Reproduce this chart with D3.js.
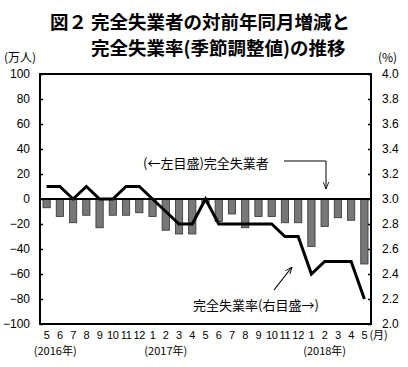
<!DOCTYPE html>
<html>
<head>
<meta charset="utf-8">
<script src="https://cdn.jsdelivr.net/npm/d3@7"></script>
<style>
  body { margin: 0; background: #fff; }
  text { font-family: "Liberation Sans", Arial, "Noto Sans CJK JP", sans-serif; }
  .jp { font-family: "Noto Sans CJK JP", sans-serif; }
</style>
</head>
<body>
<div id="chart"></div>
<script>
// months May 2016 .. May 2018
var months = [5, 6, 7, 8, 9, 10, 11, 12, 1, 2, 3, 4, 5, 6, 7, 8, 9, 10, 11, 12, 1, 2, 3, 4, 5];
// year-on-year change in unemployed persons (10k persons, left scale)
var unemployedChange = [-7, -14, -19, -13, -23, -13, -13, -11, -14, -25, -28, -28, -3, -18, -12, -23, -14, -14, -19, -19, -38, -22, -15, -17, -52];
// unemployment rate, seasonally adjusted (%, right scale)
var unemploymentRate = [3.1, 3.1, 3.0, 3.1, 3.0, 3.0, 3.1, 3.1, 3.0, 2.9, 2.8, 2.8, 3.0, 2.8, 2.8, 2.8, 2.8, 2.8, 2.7, 2.7, 2.4, 2.5, 2.5, 2.5, 2.2];
var leftTicks = [100, 80, 60, 40, 20, 0, -20, -40, -60, -80, -100];
var rightTicks = [4.0, 3.8, 3.6, 3.4, 3.2, 3.0, 2.8, 2.6, 2.4, 2.2, 2.0];
var yearLabels = ["(2016年)", "(2017年)", "(2018年)"];
var yearLabelAt = [0.65, 9, 21];

(function() {
var W = 408, H = 367;
var pl = 40, pr = 371, pt = 74, pb = 324;

var svg = d3.select("#chart").append("svg")
    .attr("width", W)
    .attr("height", H);

// Title
var title = svg.append("g")
    .attr("font-weight", "bold").attr("font-size", 18.5);
title.append("text").attr("class", "jp").attr("x", 50).attr("y", 29).text("図２");
title.append("text").attr("class", "jp").attr("x", 91).attr("y", 29).text("完全失業者の対前年同月増減と");
title.append("text").attr("class", "jp").attr("x", 91).attr("y", 55).text("完全失業率(季節調整値)の推移");

// unit labels
svg.append("text").attr("class", "jp").attr("x", 4).attr("y", 62).attr("font-size", 12).text("(万人)");
svg.append("text").attr("class", "jp").attr("x", 378).attr("y", 62).attr("font-size", 12).text("(%)");

// Scales
var x = d3.scaleBand()
    .domain(d3.range(months.length))
    .range([pl, pr])
    .paddingInner(0.45)
    .paddingOuter(0.225);
var yL = d3.scaleLinear().domain([-100, 100]).range([pb, pt]);
var yR = d3.scaleLinear().domain([2, 4]).range([pb, pt]);

// Bars
svg.append("g").selectAll("rect")
    .data(unemployedChange)
    .join("rect")
    .attr("x", function(d, i) { return x(i); })
    .attr("width", x.bandwidth())
    .attr("y", function(d) { return yL(Math.max(0, d)); })
    .attr("height", function(d) { return Math.abs(yL(d) - yL(0)); })
    .attr("fill", "#777")
    .attr("stroke", "#333")
    .attr("stroke-width", 0.8);

// zero line
svg.append("line")
    .attr("x1", pl).attr("x2", pr)
    .attr("y1", yL(0)).attr("y2", yL(0))
    .attr("stroke", "#000").attr("stroke-width", 2);

// Rate line
var line = d3.line()
    .x(function(d, i) { return x(i) + x.bandwidth() / 2; })
    .y(function(d) { return yR(d); });
svg.append("path")
    .datum(unemploymentRate)
    .attr("fill", "none")
    .attr("stroke", "#000")
    .attr("stroke-width", 3)
    .attr("stroke-linejoin", "miter")
    .attr("d", line);

// Frame
svg.append("rect")
    .attr("x", pl).attr("y", pt)
    .attr("width", pr - pl).attr("height", pb - pt)
    .attr("fill", "none").attr("stroke", "#000").attr("stroke-width", 2);

// Axes
var axL = svg.append("g")
    .attr("transform", "translate(" + pl + ",0)")
    .call(d3.axisLeft(yL).tickValues(leftTicks).tickSize(-3).tickPadding(10)
        .tickFormat(function(d) { return d < 0 ? "\u2212" + Math.abs(d) : d; }));
var axR = svg.append("g")
    .attr("transform", "translate(" + pr + ",0)")
    .call(d3.axisRight(yR).tickValues(rightTicks).tickSize(-3).tickPadding(11)
        .tickFormat(d3.format(".1f")));
[axL, axR].forEach(function(a) {
    a.select(".domain").remove();
    a.selectAll(".tick line").attr("stroke", "#000").attr("stroke-width", 1.5);
    a.selectAll(".tick text").attr("font-size", 12).attr("fill", "#000")
        .attr("font-family", "Liberation Sans, Arial, sans-serif");
});

// X labels
svg.append("g").selectAll("text")
    .data(months)
    .join("text")
    .attr("x", function(d, i) { return x(i) + x.bandwidth() / 2; })
    .attr("y", 339)
    .attr("text-anchor", "middle")
    .attr("font-size", 11)
    .attr("letter-spacing", -0.3)
    .text(function(d) { return d; });
svg.append("text").attr("class", "jp")
    .attr("x", x(months.length - 1) + x.bandwidth() / 2 + 5)
    .attr("y", 339).attr("font-size", 11).text("(月)");
svg.append("g").selectAll("text")
    .data(yearLabels)
    .join("text")
    .attr("class", "jp")
    .attr("x", function(d, i) { return pl + x.step() * (yearLabelAt[i] + 0.5); })
    .attr("y", 355)
    .attr("text-anchor", "middle")
    .attr("font-size", 11)
    .text(function(d) { return d; });

// Arrow marker
svg.append("defs").append("marker")
    .attr("id", "arr")
    .attr("viewBox", "0 0 10 10")
    .attr("refX", 10).attr("refY", 5)
    .attr("markerWidth", 7).attr("markerHeight", 7)
    .attr("markerUnits", "userSpaceOnUse")
    .attr("orient", "auto")
    .append("path")
    .attr("d", "M0,1 L10,5 L0,9")
    .attr("fill", "none").attr("stroke", "#000").attr("stroke-width", 1.2);

// Annotations
svg.append("text").attr("class", "jp")
    .attr("x", 143).attr("y", 168).attr("font-size", 13).text("(←左目盛)完全失業者");
svg.append("path")
    .attr("d", "M284,161 L326,161 L326,189")
    .attr("fill", "none").attr("stroke", "#000").attr("stroke-width", 1)
    .attr("marker-end", "url(#arr)");

svg.append("text").attr("class", "jp")
    .attr("x", 193).attr("y", 310).attr("font-size", 13).text("完全失業率(右目盛→)");
svg.append("line")
    .attr("x1", 274).attr("y1", 290).attr("x2", 292).attr("y2", 267)
    .attr("stroke", "#000").attr("stroke-width", 1.2)
    .attr("marker-end", "url(#arr)");
})();
</script>
</body>
</html>
